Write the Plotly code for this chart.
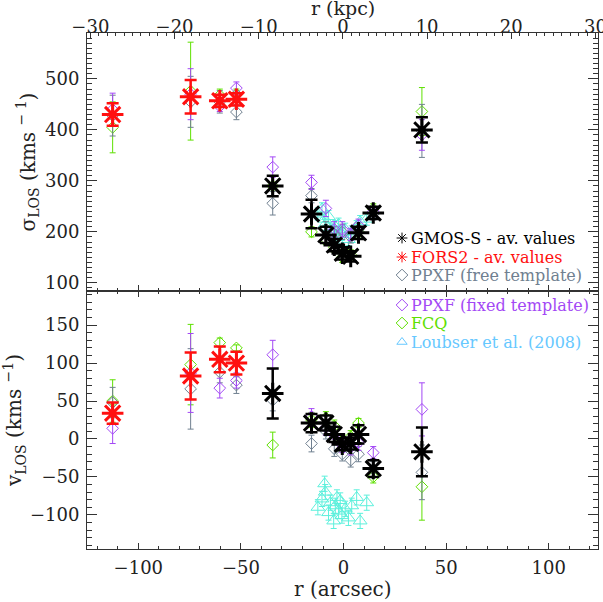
import plotly.graph_objects as go

# radii (arcsec)
r_fors = [-112.5, -74.5, -60.3, -52.2]
r_gmos = [-34.5, -15.6, -8.6, -4.5, -0.6, 3.5, 7.3, 14.5, 38.2]
r_all = r_fors + r_gmos

# FORS2 average values
sig_fors = [430, 465, 457, 460]
sig_fors_err = [22, 33, 12, 12]
v_fors = [34, 83, 105, 100]
v_fors_err = [14, 31, 17, 15]

# GMOS-S average values
sig_gmos = [290, 235, 194, 174, 158, 152, 198, 237, 400]
sig_gmos_err = [20, 28, 16, 12, 12, 10, 12, 12, 25]
v_gmos = [60, 21, 21, 6, -7, -6, 6, -39, -17]
v_gmos_err = [33, 12, 10, 10, 8, 8, 12, 11, 32]

# PPXF free template
sig_free = [428, 455, 455, 435, 256, 271, 205, 195, 200, 190, 205, 235, 398]
sig_free_err = [40, 50, 22, 15, 23, 14, 15, 15, 15, 12, 12, 12, 52]
v_free = [48, 66, 88, 71, 51, -6, 10, -13, -20, -28, -20, -40, -44]
v_free_err = [20, 53, 14, 11, 14, 11, 10, 10, 9, 9, 10, 10, 36]

# PPXF fixed template
sig_fix = [440, 470, 446, 482, 327, 297, 246, 205, 205, 195, 213, 240, 390]
sig_fix_err = [32, 50, 10, 12, 20, 14, 16, 15, 15, 12, 12, 10, 30]
v_fix = [14, 87, 67, 77, 111, 30, 15, 5, -8, -11, -5, -18, 39]
v_fix_err = [20, 52, 13, 10, 19, 10, 10, 10, 10, 10, 10, 8, 35]

# FCQ
sig_fcq = [405, 476, 468, 470, 290, 200, 185, 170, 150, 155, 200, 245, 436]
sig_fcq_err = [50, 96, 12, 10, 20, 10, 10, 10, 10, 10, 10, 10, 47]
v_fcq = [50, 98, 127, 120, -8, 25, 28, 17, -2, 3, 21, -50, -63]
v_fcq_err = [28, 53, 6, 4, 17, 10, 8, 8, 8, 8, 6, 8, 44]

# Loubser et al. (2008)
r_lou = [-12.5, -10.5, -9.2, -8.9, -7.3, -6.4, -4.8, -4.0, -3.2, -2.4, -1.6, -0.8, 0.8, 2.4, 4.0, 6.4, 8.1, 11.3]
sig_lou = [235, 245, 225, 215, 230, 205, 200, 210, 190, 215, 200, 195, 205, 185, 200, 210, 220, 225]
v_lou = [-90, -79, -59, -70, -97, -84, -108, -88, -77, -95, -81, -101, -92, -104, -88, -77, -108, -84]
sig_lou_err = [12] * len(r_lou)
v_lou_err = [10] * len(r_lou)

BLACK = '#000000'
RED = '#ff1010'
GREY = '#708090'
PURPLE = '#a348f5'
GREEN = '#5ee000'
CYAN = '#5cf0dc'
LBLUE = '#66c8ff'
FONT = 'DejaVu Serif'

fig = go.Figure()


def thin(x, y, err, color, symbol, size, xa, ya):
    fig.add_trace(go.Scatter(
        x=x, y=y, mode='markers', xaxis=xa, yaxis=ya, showlegend=False,
        marker=dict(symbol=symbol, size=size, color=color,
                    line=dict(color=color, width=1)),
        error_y=dict(type='data', array=err, color=color, thickness=1, width=3)
    ))


def thick(x, y, err, color, xa, ya):
    fig.add_trace(go.Scatter(
        x=x, y=y, mode='markers', xaxis=xa, yaxis=ya, showlegend=False,
        marker=dict(symbol='asterisk-open', size=18, color=color,
                    line=dict(color=color, width=3)),
        error_y=dict(type='data', array=err, color=color, thickness=2.5, width=6)
    ))


# top panel: sigma
thin(r_lou, sig_lou, sig_lou_err, CYAN, 'triangle-up-open', 12, 'x2', 'y2')
thin(r_all, sig_fcq, sig_fcq_err, GREEN, 'diamond-open', 9, 'x2', 'y2')
thin(r_all, sig_free, sig_free_err, GREY, 'diamond-open', 9, 'x2', 'y2')
thin(r_all, sig_fix, sig_fix_err, PURPLE, 'diamond-open', 9, 'x2', 'y2')
thick(r_fors, sig_fors, sig_fors_err, RED, 'x2', 'y2')
thick(r_gmos, sig_gmos, sig_gmos_err, BLACK, 'x2', 'y2')

# bottom panel: velocity
thin(r_lou, v_lou, v_lou_err, CYAN, 'triangle-up-open', 12, 'x', 'y')
thin(r_all, v_fcq, v_fcq_err, GREEN, 'diamond-open', 9, 'x', 'y')
thin(r_all, v_free, v_free_err, GREY, 'diamond-open', 9, 'x', 'y')
thin(r_all, v_fix, v_fix_err, PURPLE, 'diamond-open', 9, 'x', 'y')
thick(r_fors, v_fors, v_fors_err, RED, 'x', 'y')
thick(r_gmos, v_gmos, v_gmos_err, BLACK, 'x', 'y')

# empty trace for top kpc axis
fig.add_trace(go.Scatter(x=[0], y=[300], xaxis='x3', yaxis='y2', mode='markers',
                         marker=dict(opacity=0), showlegend=False, hoverinfo='skip'))

# manual legend drawn on a pixel-scaled overlay axis (page pixel coordinates)
leg_labels = ['GMOS-S - av. values', 'FORS2 - av. values', 'PPXF (free template)',
              'PPXF (fixed template)', 'FCQ', 'Loubser et al. (2008)']
leg_colors = [BLACK, RED, GREY, PURPLE, GREEN, LBLUE]
leg_symbols = ['asterisk-open', 'asterisk-open', 'diamond-open', 'diamond-open',
               'diamond-open', 'triangle-up-open']
leg_y = [238, 257, 275, 305, 323, 342]
for lab, col, sym, yy in zip(leg_labels, leg_colors, leg_symbols, leg_y):
    fig.add_trace(go.Scatter(x=[402], y=[yy], xaxis='x4', yaxis='y4', mode='markers',
                             showlegend=False, hoverinfo='skip',
                             marker=dict(symbol=sym, size=9, color=col,
                                         line=dict(color=col, width=1))))
    fig.add_annotation(x=409, y=yy, xref='x4', yref='y4', text=lab, showarrow=False,
                       xanchor='left', yanchor='middle',
                       font=dict(family=FONT, size=16, color=col))

tickfont = dict(family=FONT, size=18, color='#222')
titlefont = dict(family=FONT, size=20, color='#222')
axline = '#333'

# x-axis titles as paper-referenced annotations
fig.add_annotation(x=0.501, y=-0.0775, xref='paper', yref='paper', text='r (arcsec)',
                   showarrow=False, font=titlefont, yanchor='middle')
fig.add_annotation(x=0.501, y=1.0484, xref='paper', yref='paper', text='r (kpc)',
                   showarrow=False, font=dict(family=FONT, size=19, color='#222'),
                   yanchor='middle')

common_x = dict(range=[-125, 124], showgrid=False, zeroline=False, showline=True,
                linecolor=axline, linewidth=1, ticks='inside', ticklen=6,
                tickcolor=axline, dtick=50, tick0=0, automargin=False,
                minor=dict(dtick=10, ticks='inside', ticklen=3, tickcolor=axline))

fig.update_layout(
    width=603, height=602,
    margin=dict(l=87, r=5, t=33, b=53),
    paper_bgcolor='white', plot_bgcolor='rgba(0,0,0,0)',
    showlegend=False,
    font=dict(family=FONT, color='#222'),
    xaxis=dict(common_x, anchor='y', mirror='ticks', tickfont=tickfont,
               ticklabelstandoff=2),
    xaxis2=dict(common_x, anchor='y2', matches='x', showticklabels=False),
    xaxis3=dict(range=[-30.4, 30.3], overlaying='x2', anchor='y2', side='top',
                showgrid=False, zeroline=False, showline=True, linecolor=axline,
                ticks='inside', ticklen=6, tickcolor=axline, dtick=10, tick0=0,
                minor=dict(dtick=1, ticks='inside', ticklen=3, tickcolor=axline),
                tickfont=tickfont, ticklabelstandoff=-8, automargin=False,
                ticklabeloverflow='allow'),
    yaxis=dict(domain=[0, 0.5], anchor='x', range=[-145, 195], showgrid=False,
               zeroline=False, showline=True, linecolor=axline, mirror='ticks',
               ticks='inside', ticklen=10, tickcolor=axline, dtick=50, tick0=0,
               minor=dict(dtick=10, ticks='inside', ticklen=5, tickcolor=axline),
               tickfont=tickfont, ticklabelstandoff=3, automargin=False,
               title=dict(text='v<sub>LOS</sub> (kms <sup>\u22121</sup>)',
                          font=titlefont, standoff=4)),
    yaxis2=dict(domain=[0.5, 1], anchor='x2', range=[84, 590], showgrid=False,
                zeroline=False, showline=True, linecolor=axline, mirror='ticks',
                ticks='inside', ticklen=10, tickcolor=axline, dtick=100, tick0=0,
                minor=dict(dtick=10, ticks='inside', ticklen=5, tickcolor=axline),
                tickfont=tickfont, ticklabelstandoff=3, automargin=False,
                title=dict(text='\u03c3<sub>LOS</sub> (kms <sup>\u2212 1</sup>)',
                           font=titlefont, standoff=4)),
    xaxis4=dict(domain=[0, 1], anchor='y4', range=[87, 598], visible=False),
    yaxis4=dict(domain=[0, 1], anchor='x4', range=[549, 33], visible=False),
)

# drop the browser's default 8 px body margin so the figure fills the window
fig.write_html('out.html', config={'displayModeBar': False},
               post_script="document.body.style.margin='0';")
